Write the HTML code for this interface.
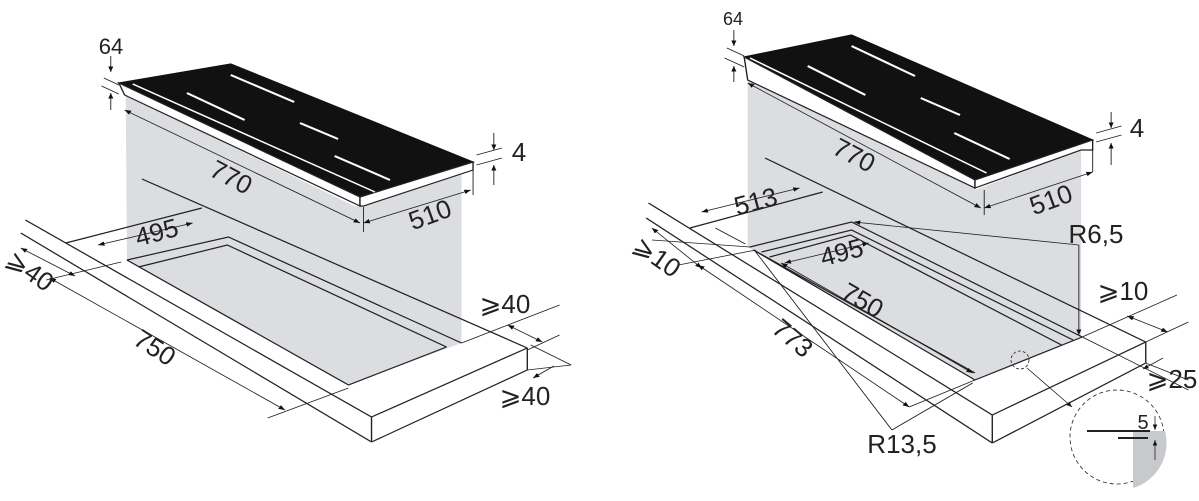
<!DOCTYPE html>
<html><head><meta charset="utf-8"><style>
html,body{margin:0;padding:0;background:#fff;}
svg{display:block;}
text{font-family:"Liberation Sans Narrow","Liberation Sans","DejaVu Sans",sans-serif;fill:#222;}
</style></head><body>
<svg width="1199" height="501" viewBox="0 0 1199 501" xmlns="http://www.w3.org/2000/svg">
<defs>
<marker id="a" viewBox="0 0 10 10" refX="10" refY="5" markerWidth="7" markerHeight="7" orient="auto-start-reverse"><path d="M0,1 L10,5 L0,9 z" fill="#111"/></marker>
</defs>
<g stroke="#222" stroke-width="1.2" fill="none">
<!-- LEFT -->
<g transform="scale(1.1538,1)">
<polygon points="109,95 307,206 315,206 400,170 400,343 302,385 110,260" fill="#dcdde0" stroke="none"/>
<polygon points="103,83 200,64 410,162 312,197" fill="#111" stroke="#111"/>
<polygon points="103,83 312,197 312,206 108,95" fill="#fff" stroke="#222"/>
<polygon points="312,197 410,162 410,170 315,206 312,206" fill="#fff" stroke="#222"/>
<g stroke="#fff" stroke-width="2"><line x1="200" y1="75" x2="255" y2="102"/><line x1="162" y1="93" x2="212" y2="120"/><line x1="260" y1="123" x2="293" y2="139"/><line x1="290" y1="156" x2="338" y2="180"/><line x1="115" y1="84" x2="325" y2="192" stroke-width="1.5"/></g>
<line x1="22" y1="220" x2="322" y2="417"/><line x1="18" y1="233" x2="322" y2="442"/>
<line x1="322" y1="417" x2="457" y2="348"/><line x1="322" y1="442" x2="457" y2="370"/>
<line x1="322" y1="417" x2="322" y2="442"/><line x1="457" y1="348" x2="457" y2="370"/>
<line x1="123" y1="179" x2="457" y2="348"/><line x1="57" y1="243" x2="175" y2="208"/>
<polyline points="110,260 198,237 400,343"/><polyline points="120,267 197,245 387,347"/>
<polyline points="110,260 302,385 387,347"/>
<g stroke-width="0.8">
<line x1="108" y1="110" x2="312" y2="223" marker-start="url(#a)" marker-end="url(#a)"/>
<line x1="315" y1="223" x2="408" y2="190" marker-start="url(#a)" marker-end="url(#a)"/>
<line x1="315" y1="207" x2="315" y2="232"/><line x1="410" y1="170" x2="410" y2="195"/>
<line x1="413" y1="155" x2="435" y2="148"/><line x1="413" y1="165" x2="435" y2="158"/>
<line x1="428" y1="133" x2="428" y2="150" marker-end="url(#a)"/><line x1="428" y1="185" x2="428" y2="165" marker-end="url(#a)"/>
<line x1="90" y1="78" x2="103" y2="85"/><line x1="88" y1="86" x2="103" y2="94"/>
<line x1="96" y1="56" x2="96" y2="72" marker-end="url(#a)"/><line x1="96" y1="110" x2="96" y2="93" marker-end="url(#a)"/>
<line x1="85" y1="245" x2="167" y2="223" marker-start="url(#a)" marker-end="url(#a)"/>
<line x1="43" y1="278" x2="247" y2="410" marker-start="url(#a)" marker-end="url(#a)"/>
<line x1="232" y1="418" x2="302" y2="388"/><line x1="40" y1="280" x2="105" y2="262"/>
<line x1="18" y1="248" x2="65" y2="276" marker-start="url(#a)" marker-end="url(#a)"/>
<line x1="400" y1="343" x2="485" y2="305"/><line x1="457" y1="350" x2="485" y2="335"/>
<line x1="440" y1="325" x2="470" y2="342" marker-start="url(#a)" marker-end="url(#a)"/>
<line x1="457" y1="370" x2="495" y2="365"/><line x1="460" y1="345" x2="495" y2="365"/>
<line x1="462" y1="378" x2="480" y2="366" marker-start="url(#a)"/>
</g>
</g>
<!-- RIGHT -->
<g transform="translate(600,0) scale(1.1538,1) translate(-600,0)">
<polygon points="728,80 925,188 925,190 1017,150 1017,337 925,380 728,247" fill="#dcdde0" stroke="none"/>
<polygon points="725,57 818,35 1027,140 925,180" fill="#111" stroke="#111"/>
<polygon points="725,57 925,180 925,188 728,80" fill="#fff" stroke="#222"/>
<polygon points="925,180 1027,140 1027,150 1017,150 925,188" fill="#fff" stroke="#222"/>
<g stroke="#fff" stroke-width="2"><line x1="818" y1="46" x2="873" y2="76"/><line x1="780" y1="66" x2="830" y2="95"/><line x1="878" y1="98" x2="912" y2="115"/><line x1="907" y1="133" x2="955" y2="159"/><line x1="730" y1="58" x2="935" y2="173" stroke-width="1.5"/></g>
<line x1="642" y1="203" x2="940" y2="415"/><line x1="640" y1="218" x2="940" y2="443"/>
<line x1="940" y1="415" x2="1073" y2="342"/><line x1="940" y1="443" x2="1073" y2="363"/>
<line x1="940" y1="415" x2="940" y2="443"/><line x1="1073" y1="342" x2="1073" y2="363"/>
<line x1="743" y1="158" x2="1073" y2="342"/><line x1="678" y1="228" x2="793" y2="192"/>
<polyline points="730,247 818,222 1018,337"/><polyline points="740,252 818,230 1010,340"/><polyline points="747,257 817,235 1000,345"/>
<polyline points="733,250 925,380 1018,337"/><line x1="733" y1="250" x2="925" y2="373"/>
<g stroke-width="0.8">
<line x1="728" y1="83" x2="930" y2="208" marker-start="url(#a)" marker-end="url(#a)"/>
<line x1="933" y1="208" x2="1027" y2="172" marker-start="url(#a)" marker-end="url(#a)"/>
<line x1="933" y1="190" x2="933" y2="215"/><line x1="1027" y1="150" x2="1027" y2="172"/>
<line x1="1030" y1="133" x2="1052" y2="126"/><line x1="1030" y1="142" x2="1052" y2="135"/>
<line x1="1043" y1="112" x2="1043" y2="128" marker-end="url(#a)"/><line x1="1043" y1="165" x2="1043" y2="143" marker-end="url(#a)"/>
<line x1="710" y1="48" x2="725" y2="56"/><line x1="708" y1="58" x2="725" y2="67"/>
<line x1="716" y1="30" x2="716" y2="46" marker-end="url(#a)"/><line x1="716" y1="82" x2="716" y2="66" marker-end="url(#a)"/>
<line x1="688" y1="212" x2="773" y2="188" marker-start="url(#a)" marker-end="url(#a)"/>
<line x1="700" y1="228" x2="726" y2="244"/>
<line x1="760" y1="263" x2="833" y2="243" marker-start="url(#a)" marker-end="url(#a)"/>
<line x1="757" y1="263" x2="923" y2="373" marker-start="url(#a)" marker-end="url(#a)"/>
<line x1="685" y1="265" x2="868" y2="407" marker-start="url(#a)" marker-end="url(#a)"/>
<line x1="868" y1="407" x2="925" y2="380"/>
<line x1="645" y1="240" x2="730" y2="247"/><line x1="668" y1="265" x2="735" y2="250"/>
<line x1="645" y1="228" x2="688" y2="268" marker-start="url(#a)" marker-end="url(#a)"/>
<line x1="1015" y1="245" x2="820" y2="222" marker-end="url(#a)"/>
<line x1="1015" y1="245" x2="1015" y2="335" marker-end="url(#a)"/>
<line x1="853" y1="430" x2="735" y2="252"/><line x1="853" y1="430" x2="923" y2="383"/>
<line x1="1018" y1="337" x2="1100" y2="295"/><line x1="1073" y1="342" x2="1110" y2="322"/>
<line x1="1057" y1="316" x2="1092" y2="332" marker-start="url(#a)" marker-end="url(#a)"/>
<line x1="1018" y1="337" x2="1110" y2="390"/><line x1="1073" y1="363" x2="1110" y2="380"/>
</g>
</g>
<g stroke-width="0.8">
<line x1="1143" y1="369" x2="1163" y2="358" marker-start="url(#a)"/>
<circle cx="1020" cy="360" r="9" stroke-dasharray="3,2"/>
<line x1="1027" y1="368" x2="1072" y2="407" marker-end="url(#a)"/>
<circle cx="1117" cy="437" r="47" stroke-dasharray="4,3"/>
</g>
<path d="M1133,431 L1165,431 A47,47 0 0 1 1133,488 Z" fill="#c8c9cc" stroke="none"/>
<line x1="1087" y1="431" x2="1150" y2="431" stroke-width="2"/>
<line x1="1118" y1="438" x2="1148" y2="438" stroke-width="2"/>
<line x1="1155" y1="416" x2="1155" y2="430" stroke-width="0.8" marker-end="url(#a)"/>
<line x1="1155" y1="460" x2="1155" y2="440" stroke-width="0.8" marker-end="url(#a)"/>
</g>
<g font-size="26">
<text x="111" y="54" text-anchor="middle" font-size="22">64</text>
<text transform="translate(227,185) rotate(28)" text-anchor="middle">770</text>
<text transform="translate(433,223) rotate(-20)" text-anchor="middle">510</text>
<text x="519" y="161" text-anchor="middle">4</text>
<text transform="translate(159,241) rotate(-15)" text-anchor="middle">495</text>
<text transform="translate(25,278) rotate(35)" text-anchor="middle">⩾40</text>
<text transform="translate(150,355) rotate(33)" text-anchor="middle">750</text>
<text x="505" y="313" text-anchor="middle">⩾40</text>
<text x="525" y="405" text-anchor="middle">⩾40</text>
<text x="733" y="25" text-anchor="middle" font-size="18">64</text>
<text transform="translate(850,163) rotate(28)" text-anchor="middle">770</text>
<text x="1137" y="137" text-anchor="middle">4</text>
<text transform="translate(1054,208) rotate(-20)" text-anchor="middle">510</text>
<text transform="translate(758,210) rotate(-15)" text-anchor="middle">513</text>
<text x="1096" y="243" text-anchor="middle">R6,5</text>
<text transform="translate(844,261) rotate(-15)" text-anchor="middle">495</text>
<text transform="translate(652,264) rotate(35)" text-anchor="middle">⩾10</text>
<text transform="translate(858,308) rotate(30)" text-anchor="middle">750</text>
<text transform="translate(787,345) rotate(40)" text-anchor="middle">773</text>
<text x="1123" y="300" text-anchor="middle">⩾10</text>
<text x="1172" y="388" text-anchor="middle">⩾25</text>
<text x="902" y="453" text-anchor="middle">R13,5</text>
<text x="1143" y="429" text-anchor="middle" font-size="20">5</text>
</g>
</svg>
</body></html>
